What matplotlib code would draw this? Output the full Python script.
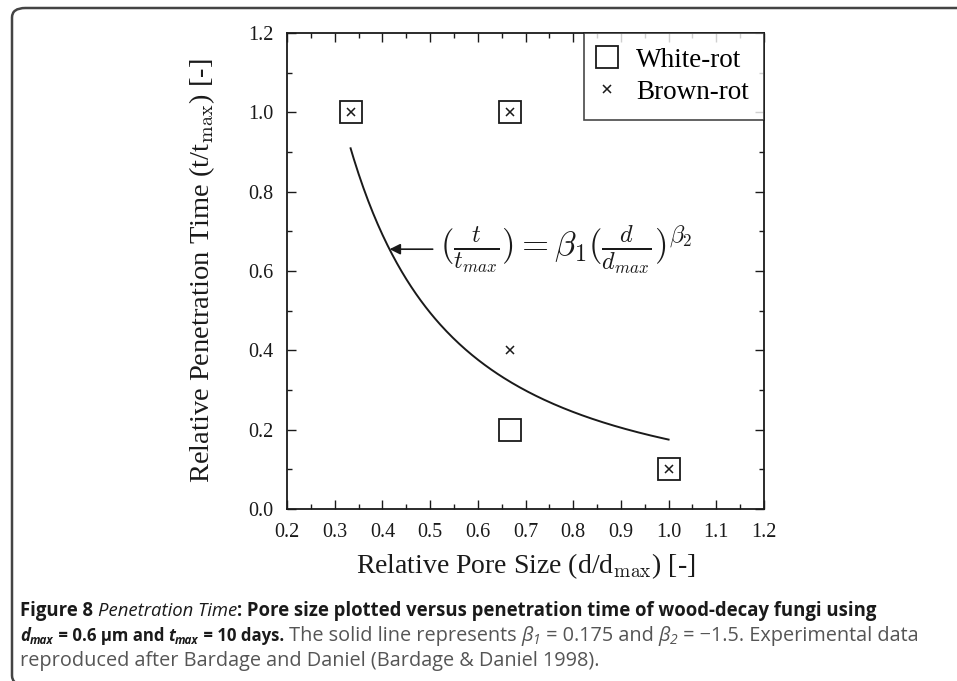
import numpy as np
import matplotlib
matplotlib.use("Agg")
import matplotlib.pyplot as plt
from matplotlib.ticker import MultipleLocator
from matplotlib.patches import FancyBboxPatch

# data
white_d = [1/3, 2/3, 2/3, 1.0]
white_t = [1.0, 1.0, 0.2, 0.1]
brown_d = [1/3, 2/3, 2/3, 1.0]
brown_t = [1.0, 1.0, 0.4, 0.1]
beta1 = 0.175
beta2 = -1.5
d_fit = np.linspace(1/3, 1.0, 200)

plt.rcParams['mathtext.fontset'] = 'cm'
serif = 'Liberation Serif'

fig = plt.figure(figsize=(9.57, 6.81), dpi=100)
ax = fig.add_axes([287 / 957, 1 - 509 / 681, 477 / 957, 476 / 681])

ax.plot(d_fit, beta1 * d_fit ** beta2, color='#1a1a1a', lw=1.4)
ax.plot(white_d, white_t, ls='none', marker='s', ms=15.5, mfc='white',
        mec='#1a1a1a', mew=1.3, label='White-rot')
ax.plot(brown_d, brown_t, ls='none', marker='x', ms=6, mec='#1a1a1a',
        mew=1.1, label='Brown-rot')

ax.set_xlim(0.2, 1.2)
ax.set_ylim(0.0, 1.2)
ax.xaxis.set_major_locator(MultipleLocator(0.1))
ax.xaxis.set_minor_locator(MultipleLocator(0.05))
ax.yaxis.set_major_locator(MultipleLocator(0.2))
ax.yaxis.set_minor_locator(MultipleLocator(0.1))
ax.xaxis.set_major_formatter(lambda v, p: f'{v:.1f}')
ax.yaxis.set_major_formatter(lambda v, p: f'{v:.1f}')
ax.tick_params(which='both', direction='in', top=True, right=True,
               width=1.0, colors='#1a1a1a', labelsize=14.5)
ax.tick_params(which='major', length=6.5, pad=10)
ax.tick_params(which='minor', length=3.5)
for lab in ax.get_xticklabels() + ax.get_yticklabels():
    lab.set_fontfamily(serif)
for s in ax.spines.values():
    s.set_linewidth(1.3)
    s.set_color('#1a1a1a')

ax.set_xlabel(r'Relative Pore Size (d/d$_{\mathrm{max}}$) [-]', fontsize=20,
              fontfamily=serif, color='#1a1a1a', labelpad=7)
ax.set_ylabel(r'Relative Penetration Time (t/t$_{\mathrm{max}}$) [-]', fontsize=20.5,
              fontfamily=serif, color='#1a1a1a', labelpad=22)

leg = ax.legend(loc='upper right', prop={'family': serif, 'size': 19.5},
                frameon=True, fancybox=False, borderaxespad=0,
                handletextpad=0.75, borderpad=0.55, labelspacing=0.25,
                handlelength=0.65)
leg.get_frame().set_edgecolor('#1a1a1a')
leg.get_frame().set_linewidth(1.2)
leg.legend_handles[0].set_markersize(15.5)

ax.annotate(r'$(\frac{t}{t_{max}}) = \beta_1(\frac{d}{d_{max}})^{\beta_2}$',
            xy=(0.415, 0.655), xytext=(0.52, 0.655), fontsize=25,
            va='center', ha='left', color='#1a1a1a',
            arrowprops=dict(arrowstyle='-|>', color='#1a1a1a', lw=1.2,
                            shrinkA=3, shrinkB=0, mutation_scale=16))

# caption frame (top + left edge, rounded corners)
frame = FancyBboxPatch((12 / 957, -4 / 681), 1.2, 1 - 4 / 681,
                       boxstyle='round,pad=0,rounding_size=0.014',
                       transform=fig.transFigure, fill=False,
                       edgecolor='#444444', lw=1.8, clip_on=False)
fig.add_artist(frame)

cap_font = 'Open Sans'
dark = '#1a1a1a'
grey = '#555555'
lines = [
    [('Figure 8 ', 'bold', 'normal', dark),
     ('Penetration Time', 'normal', 'italic', dark),
     (': Pore size plotted versus penetration time of wood-decay fungi using', 'bold', 'normal', dark)],
    [('d', 'bold', 'italic', dark),
     ('max', 'bold', 'italic', dark),
     (' = 0.6 µm and ', 'bold', 'normal', dark),
     ('t', 'bold', 'italic', dark),
     ('max', 'bold', 'italic', dark),
     (' = 10 days.', 'bold', 'normal', dark),
     (' The solid line represents ', 'normal', 'normal', grey),
     ('β', 'normal', 'italic', grey),
     ('1', 'normal', 'italic', grey),
     (' = 0.175 and ', 'normal', 'normal', grey),
     ('β', 'normal', 'italic', grey),
     ('2', 'normal', 'italic', grey),
     (' = \u22121.5. Experimental data', 'normal', 'normal', grey)],
    [('reproduced after Bardage and Daniel (Bardage & Daniel 1998).', 'normal', 'normal', grey)],
]
subs = {(1, 1), (1, 4), (1, 8), (1, 11)}

fig.canvas.draw()
renderer = fig.canvas.get_renderer()


def run_width(runs, size):
    total = 0
    for i, (txt, w, st, c) in enumerate(runs):
        s = size * (0.7 if (1, i) in subs and runs is lines[1] else 1.0)
        t = fig.text(0, 0, txt, fontsize=s, fontweight=w, fontstyle=st, family=cap_font)
        total += t.get_window_extent(renderer).width
        t.remove()
    return total


# the source caption uses a condensed bold, so bold and regular runs get sized separately
bold_size = 10 * 858 / run_width(lines[0], 10)
bold2_size = bold_size * 0.9
bold2_w = run_width(lines[1][:6], bold2_size)
reg_w = run_width(lines[1][6:], 10)
reg_size = 10 * (948 - 20 - bold2_w) / reg_w

y_px = [611, 636, 661]
for li, runs in enumerate(lines):
    x = 20
    for ri, (txt, w, st, c) in enumerate(runs):
        if li == 0:
            size = bold_size
        elif w == 'bold':
            size = bold2_size
        else:
            size = reg_size
        dy = 0
        if (li, ri) in subs:
            size = size * 0.7
            dy = 4
        t = fig.text(x / 957, 1 - (y_px[li] + dy) / 681, txt, fontsize=size,
                     fontweight=w, fontstyle=st, color=c, family=cap_font,
                     va='center', ha='left')
        bb = t.get_window_extent(renderer)
        x += bb.width

fig.savefig('out.png', dpi=100)
